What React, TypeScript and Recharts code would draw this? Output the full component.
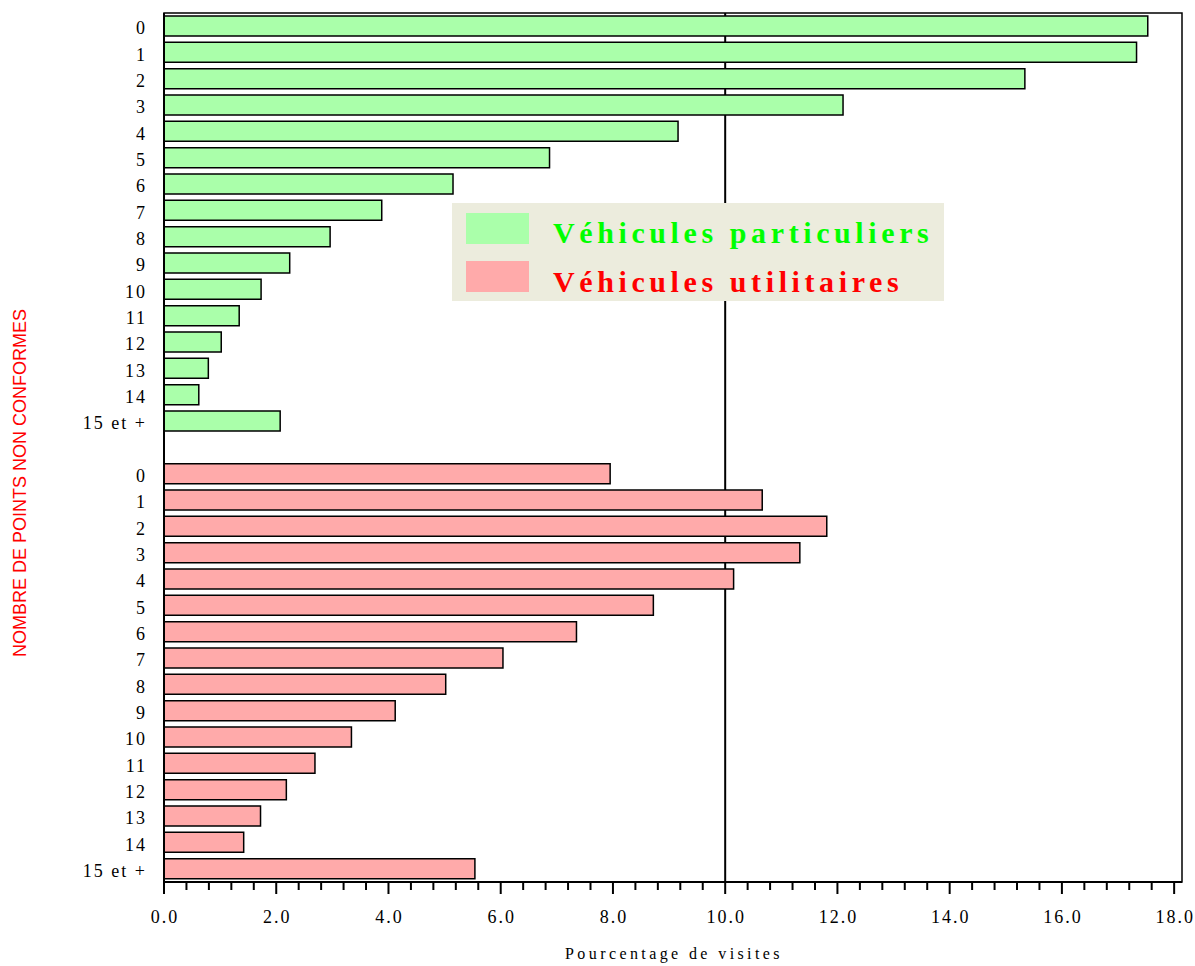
import React from "react";
import { Bar, BarChart, Legend, ReferenceArea, ReferenceLine, XAxis, YAxis } from "recharts";

const POINT_LABELS = ["0", "1", "2", "3", "4", "5", "6", "7", "8", "9", "10", "11", "12", "13", "14", "15 et +"];
const VP_VALUES = [17.53, 17.33, 15.34, 12.1, 9.16, 6.87, 5.15, 3.88, 2.96, 2.24, 1.73, 1.34, 1.02, 0.79, 0.62, 2.07];
const VU_VALUES = [7.95, 10.66, 11.81, 11.33, 10.15, 8.72, 7.35, 6.04, 5.02, 4.12, 3.34, 2.69, 2.18, 1.72, 1.42, 5.54];
const X_LABEL_TICKS = [0, 2, 4, 6, 8, 10, 12, 14, 16, 18];
const X_MAX = 18.14;

const SERIES = [
  { key: "vp", name: "Véhicules particuliers", fill: "#aaffaa", text: "#00ff00" },
  { key: "vu", name: "Véhicules utilitaires", fill: "#ffaaaa", text: "#ff0000" },
];

const SERIF = "'Liberation Serif', 'Times New Roman', serif";

// one empty row between the two groups
const rows: any[] = [
  ...POINT_LABELS.map((label, i) => ({ id: `vp-${i}`, label, vp: VP_VALUES[i] })),
  { id: "gap", label: "" },
  ...POINT_LABELS.map((label, i) => ({ id: `vu-${i}`, label, vu: VU_VALUES[i] })),
];
const labelById: Record<string, string> = Object.fromEntries(rows.map(r => [r.id, r.label]));

// minor ticks every 0.4 between labelled ones
const xTicks = X_LABEL_TICKS.flatMap((t, i) =>
  i === X_LABEL_TICKS.length - 1 ? [t] : [0, 1, 2, 3, 4].map(k => Math.round((t + k * 0.4) * 10) / 10)
);

const XTick = ({ x, y, payload }: any) => {
  const major = X_LABEL_TICKS.includes(payload.value);
  return (
    <g>
      <line x1={x} x2={x} y1={y} y2={y + (major ? 12 : 8)} stroke="#000" strokeWidth={2} />
      {major && (
        <text x={x + 1} y={y + 41} textAnchor="middle" fontFamily={SERIF} fontSize={18} letterSpacing={2} fill="#000">
          {payload.value.toFixed(1)}
        </text>
      )}
    </g>
  );
};

const YTick = ({ x, y, payload }: any) => (
  <text x={x - 17} y={y + 8} textAnchor="end" fontFamily={SERIF} fontSize={18} letterSpacing={2} fill="#000">
    {labelById[payload.value]}
  </text>
);

const YTitle = () => (
  <text
    x={20}
    y={483}
    transform="rotate(-90 20 483)"
    textAnchor="middle"
    dominantBaseline="central"
    fontFamily="'Liberation Sans', Arial, sans-serif"
    fontSize={18}
    fill="#ff0000"
  >
    NOMBRE DE POINTS NON CONFORMES
  </text>
);

const XTitle = () => (
  <text x={674} y={959} textAnchor="middle" fontFamily={SERIF} fontSize={16} letterSpacing={3.4} fill="#000">
    Pourcentage de visites
  </text>
);

const LegendBox = () => (
  <svg width={492} height={98} style={{ display: "block" }}>
    <rect x={0} y={0} width={492} height={98} fill="#ececdd" />
    {SERIES.map((s, i) => (
      <g key={s.key}>
        <rect x={14} y={10 + i * 48} width={63} height={31} fill={s.fill} />
        <text
          x={101}
          y={40 + i * 49}
          fontFamily={SERIF}
          fontWeight="bold"
          fontSize={30}
          letterSpacing={4.6}
          fill={s.text}
        >
          {s.name}
        </text>
      </g>
    ))}
  </svg>
);

export default function App() {
  return (
    <div style={{ position: "absolute", left: 0, top: 0, width: 1195, height: 966, background: "#fff" }}>
      <BarChart
        width={1195}
        height={966}
        data={rows}
        layout="vertical"
        barSize={20}
        margin={{ top: 13, right: 13, bottom: 0, left: 0 }}
      >
        <XAxis
          type="number"
          domain={[0, X_MAX]}
          ticks={xTicks}
          interval={0}
          allowDataOverflow
          height={84}
          tickSize={0}
          tickMargin={0}
          tickLine={false}
          tick={<XTick />}
          axisLine={{ stroke: "#000", strokeWidth: 2 }}
          label={<XTitle />}
        />
        <YAxis
          type="category"
          dataKey="id"
          width={164}
          interval={0}
          tickSize={0}
          tickMargin={0}
          tickLine={false}
          tick={<YTick />}
          axisLine={{ stroke: "#000", strokeWidth: 2 }}
          label={<YTitle />}
        />
        <ReferenceArea x1={0} x2={X_MAX} fill="none" stroke="#000" strokeWidth={1.5} />
        {/* the 10.0 line sits behind the bars */}
        <ReferenceLine x={10} stroke="#000" strokeWidth={2} zIndex={-50} />
        {SERIES.map(s => (
          <Bar
            key={s.key}
            dataKey={s.key}
            name={s.name}
            stackId="s"
            fill={s.fill}
            stroke="#000"
            strokeWidth={1.5}
            isAnimationActive={false}
          />
        ))}
        <Legend
          verticalAlign="middle"
          align="center"
          content={<LegendBox />}
          wrapperStyle={{ left: 452, top: 203, width: 492, height: 98 }}
        />
      </BarChart>
    </div>
  );
}
